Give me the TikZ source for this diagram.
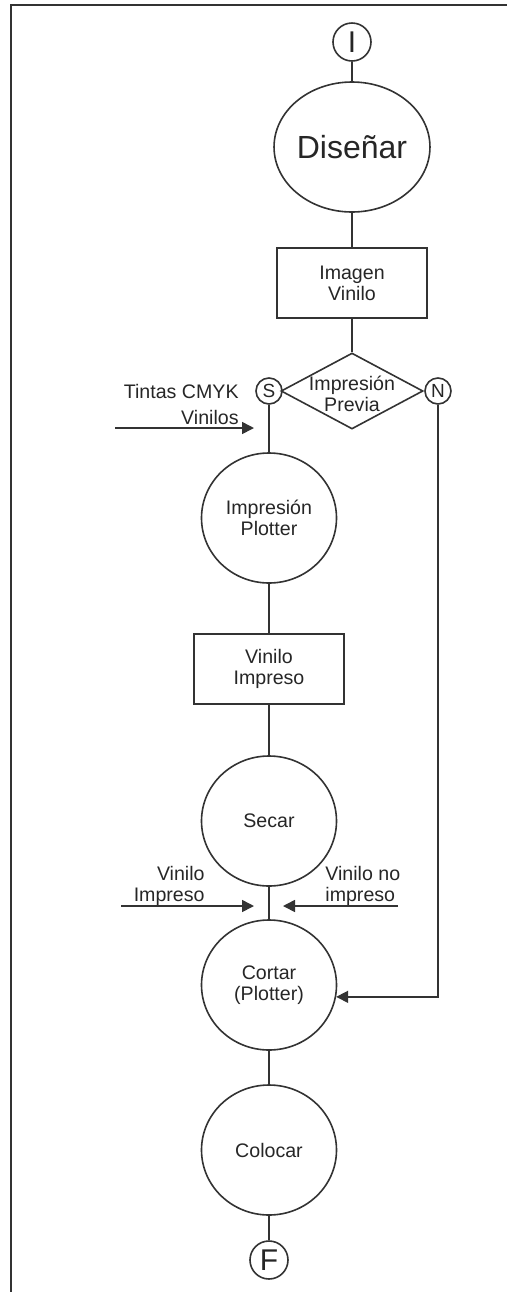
\documentclass[tikz,border=0pt]{standalone}
\usepackage{fontspec}
\setmainfont{Liberation Sans}
\usetikzlibrary{shapes.geometric,arrows.meta}

\tikzset{
	linea/.style={line width=0.8pt,color=black!80},
	flecha/.style={linea,-{Triangle[length=6pt,width=6pt]}},
	texto/.style={font=\fontsize{9.8}{10.5}\selectfont,text=black!85},
	proceso/.style={ellipse,draw,linea,texto,minimum width=67.5pt,minimum height=65pt,inner sep=0pt,align=center},
	dato/.style={rectangle,draw,linea,texto,minimum width=75pt,minimum height=35pt,inner sep=0pt,align=center},
	decision/.style={diamond,draw,linea,minimum width=71pt,minimum height=38pt,inner sep=0pt},
	conector/.style={circle,draw,linea,minimum size=19pt,inner sep=0pt,text=black!85,font=\fontsize{15}{15}\selectfont},
	rama/.style={circle,draw,linea,minimum size=13pt,inner sep=0pt,text=black!85,font=\fontsize{9.5}{9.5}\selectfont},
	etiqueta/.style={texto,inner sep=0pt}
}

\begin{document}
\begin{tikzpicture}[x=0.5pt,y=-0.5pt]
	\useasboundingbox (0,0) rectangle (507,1292);
	\draw[linea] (507,5) -- (11,5) -- (11,1292);

	\node[conector]	(ini)		at (352,42)	{I};
	\node[proceso,font=\fontsize{16}{19}\selectfont,minimum width=68.5pt]	(disenar)	at (352,147)	{Diseñar};
	\node[dato]		(imagen)	at (352,283)	{Imagen\\Vinilo};
	\node[decision]	(previa)	at (352,391)	{};
	\node[texto,align=center,inner sep=0pt]	(previatxt)	at (352,394)	{Impresión\\Previa};
	\node[rama]		(si)		at (269,391)	{S};
	\node[rama]		(no)		at (438,391)	{N};
	\node[proceso]	(plotter)	at (269,518)	{Impresión\\Plotter};
	\node[dato]		(impreso)	at (269,669)	{Vinilo\\Impreso};
	\node[proceso]	(secar)		at (269,821)	{Secar};
	\node[proceso]	(cortar)	at (269,985)	{Cortar\\(Plotter)};
	\node[proceso]	(colocar)	at (269,1150)	{Colocar};
	\node[conector]	(fin)		at (269,1260)	{F};

	\node[etiqueta,align=right,anchor=east,font=\fontsize{9.8}{13}\selectfont]	(tintas)	at (239,404)	{Tintas CMYK\\Vinilos};
	\node[etiqueta,align=right,anchor=east]	(vimp)		at (205,886)	{Vinilo\\Impreso};
	\node[etiqueta,align=left,anchor=west]	(vnoimp)	at (325,886)	{Vinilo no\\impreso};

	\coordinate (e1) at (115,428);
	\coordinate (e1f) at (254,428);
	\coordinate (e2) at (121,906);
	\coordinate (e2f) at (254,906);
	\coordinate (e3) at (398,906);
	\coordinate (e3f) at (283,906);

	\draw[linea] (ini) -- (disenar);
	\draw[linea] (disenar) -- (imagen);
	\draw[linea] (imagen) -- (previa);
	\draw[linea] (si) -- (plotter);
	\draw[linea] (plotter) -- (impreso);
	\draw[linea] (impreso) -- (secar);
	\draw[linea] (secar) -- (cortar);
	\draw[linea] (cortar) -- (colocar);
	\draw[linea] (colocar) -- (fin);
	\draw[flecha] (no) |- (cortar.-10);
	\draw[flecha] (e1) -- (e1f);
	\draw[flecha] (e2) -- (e2f);
	\draw[flecha] (e3) -- (e3f);
\end{tikzpicture}
\end{document}
